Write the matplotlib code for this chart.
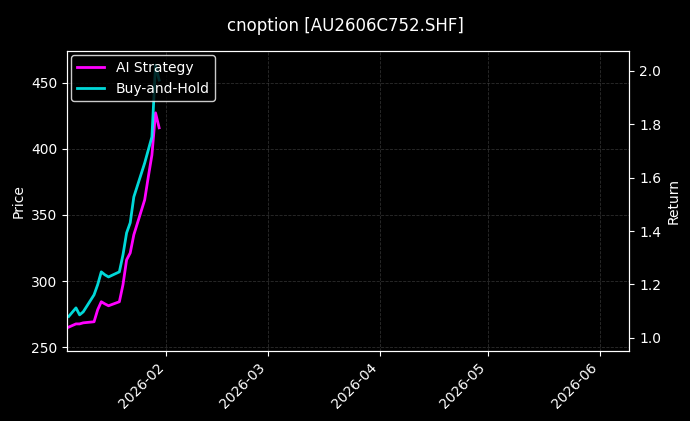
import numpy as np
import pandas as pd
import matplotlib
matplotlib.use("Agg")
import matplotlib.pyplot as plt
import matplotlib.dates as mdates

plt.style.use("dark_background")

# data
dates = pd.to_datetime(["2026-01-05", "2026-01-07", "2026-01-08", "2026-01-09",
                        "2026-01-12", "2026-01-13", "2026-01-14", "2026-01-15",
                        "2026-01-16", "2026-01-19", "2026-01-20", "2026-01-21",
                        "2026-01-22", "2026-01-23", "2026-01-26", "2026-01-27",
                        "2026-01-28", "2026-01-29", "2026-01-30"])
ai_strategy = [1.040, 1.052, 1.052, 1.056, 1.060, 1.105, 1.135, 1.127, 1.120, 1.135,
               1.199, 1.292, 1.318, 1.386, 1.517, 1.603, 1.685, 1.843, 1.787]
buy_hold = [1.080, 1.112, 1.086, 1.097, 1.161, 1.199, 1.247, 1.236, 1.228, 1.247,
            1.311, 1.393, 1.431, 1.528, 1.655, 1.704, 1.753, 2.022, 1.966]

fig = plt.figure(figsize=(6.9, 4.21), dpi=100)
fig.patch.set_facecolor("black")
ax = fig.add_axes([0.097, 0.166, 0.815, 0.713])
ax.set_facecolor("black")
ax2 = ax.twinx()

ax.set_ylim(247, 474)
ax.set_ylabel("Price")
ax.grid(True, linestyle="--", color="gray", alpha=0.35, linewidth=0.6)

ax2.plot(dates, ai_strategy, color="#ff00ff", linewidth=2, label="AI Strategy")
ax2.plot(dates, buy_hold, color="#00ffff", linewidth=2, alpha=0.85, label="Buy-and-Hold")
ax2.set_ylim(0.95, 2.075)
ax2.set_ylabel("Return")

ax.set_xlim(pd.Timestamp("2026-01-04 12:00"), pd.Timestamp("2026-06-09"))
ax.xaxis.set_major_locator(mdates.MonthLocator())
ax.xaxis.set_major_formatter(mdates.DateFormatter("%Y-%m"))
for lbl in ax.get_xticklabels():
    lbl.set_rotation(45)
    lbl.set_ha("right")

leg = ax2.legend(loc="upper left", facecolor="black", edgecolor="white",
                 borderaxespad=0.3)
fig.suptitle("cnoption [AU2606C752.SHF]", y=0.96)

fig.savefig("out.png", dpi=100, facecolor="black")
